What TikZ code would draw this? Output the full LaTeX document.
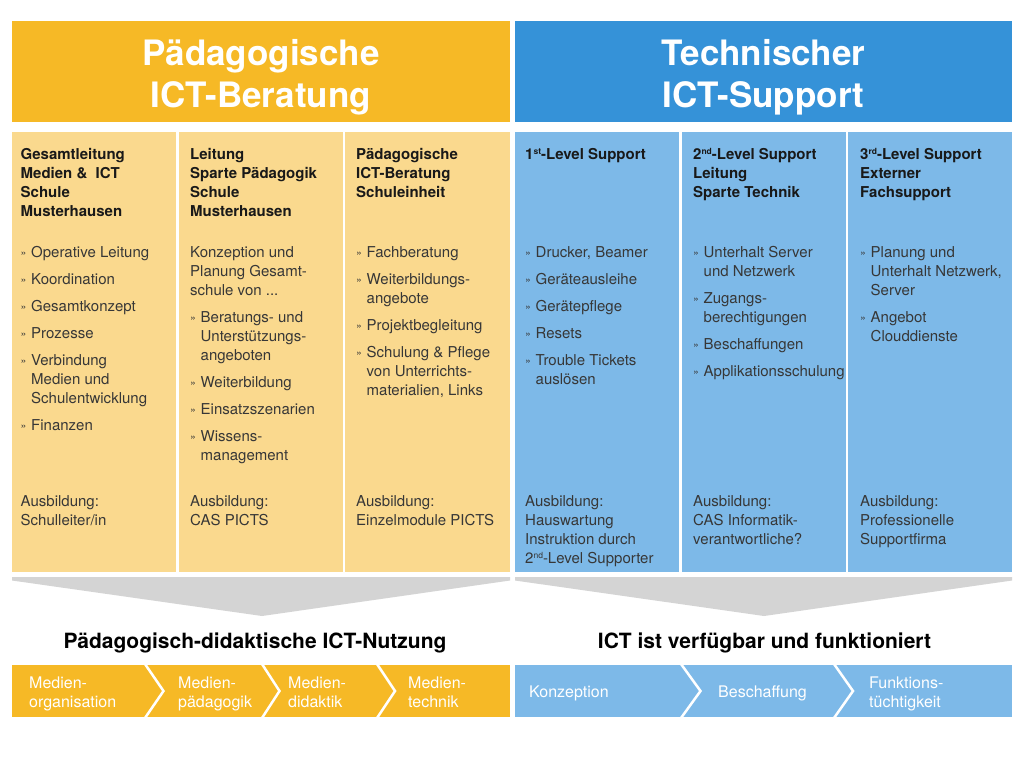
\documentclass[tikz,border=0pt]{standalone}
\usepackage{fontspec}
\setmainfont{TeX Gyre Heros}
\definecolor{orangeH}{RGB}{246,185,38}
\definecolor{orangeL}{RGB}{250,217,142}
\definecolor{blueH}{RGB}{53,146,216}
\definecolor{blueL}{RGB}{125,185,232}
\definecolor{grayA}{RGB}{212,212,212}
\definecolor{txtH}{RGB}{25,25,25}
\definecolor{txtB}{RGB}{55,55,55}
\newcommand\bul{\makebox[10.5pt][l]{\raisebox{0.8pt}{\fontsize{10.5}{10.5}\selectfont »}}}
\newcommand\ind{\makebox[10.5pt]{}}
\newcommand\sups[1]{\raisebox{5pt}{\fontsize{8.5}{8.5}\selectfont #1}}
\begin{document}
\begin{tikzpicture}[x=1pt,y=-1pt,
  box/.style={draw=none,inner sep=0,outer sep=0,anchor=north west},
  hdr/.style={inner sep=0,anchor=north,align=center,text=white,font=\fontsize{35}{41.6}\selectfont\bfseries},
  colhead/.style={inner sep=0,anchor=north west,align=left,text=txtH,font=\fontsize{15}{19}\selectfont\bfseries},
  colbody/.style={inner sep=0,anchor=north west,align=left,text=txtB,font=\fontsize{15}{19}\selectfont},
  title/.style={inner sep=0,anchor=base,text=black,font=\fontsize{21}{25}\selectfont\bfseries},
  chevtxt/.style={inner sep=0,anchor=north west,align=left,text=white,font=\fontsize{16}{19}\selectfont},
  chevone/.style={inner sep=0,anchor=base west,text=white,font=\fontsize{16}{19}\selectfont},
  sep/.style={white,line width=2.5pt}
]
\fill[white] (0,0) rectangle (1024,768);
\useasboundingbox (0,0) rectangle (1024,768);

% headers
\node[box,fill=orangeH,minimum width=498pt,minimum height=101pt] (hl) at (12,21) {};
\node[box,fill=blueH,minimum width=497pt,minimum height=101pt] (hr) at (515,21) {};
\node[hdr] (hlt) at (261,36.6) {\strut Pädagogische\\ICT-Beratung};
\node[hdr] (hrt) at (763.5,36.6) {\strut Technischer\\ICT-Support};

% columns
\node[box,fill=orangeL,minimum width=164pt,minimum height=440pt] (c1) at (12,132) {};
\node[box,fill=orangeL,minimum width=164pt,minimum height=440pt] (c2) at (179,132) {};
\node[box,fill=orangeL,minimum width=165pt,minimum height=440pt] (c3) at (345,132) {};
\node[box,fill=blueL,minimum width=164pt,minimum height=440pt] (c4) at (515,132) {};
\node[box,fill=blueL,minimum width=164pt,minimum height=440pt] (c5) at (682,132) {};
\node[box,fill=blueL,minimum width=164pt,minimum height=440pt] (c6) at (848,132) {};

% column headings
\node[colhead] (h1) at (20.5,145.7) {\strut Gesamtleitung\\Medien \&\ \ ICT\\Schule\\Musterhausen};
\node[colhead] (h2) at (190,145.7) {\strut Leitung\\Sparte Pädagogik\\Schule\\Musterhausen};
\node[colhead] (h3) at (356,145.7) {\strut Pädagogische\\ICT-Beratung\\Schuleinheit};
\node[colhead] (h4) at (525,145.7) {\strut 1\sups{st}-Level Support};
\node[colhead] (h5) at (693,145.7) {\strut 2\sups{nd}-Level Support\\Leitung\\Sparte Technik};
\node[colhead] (h6) at (860,145.7) {\strut 3\sups{rd}-Level Support\\Externer\\Fachsupport};

% column bodies
\node[colbody] (b1) at (20.5,244.2) {\strut\bul Operative Leitung\\[8pt]
  \bul Koordination\\[8pt]
  \bul Gesamtkonzept\\[8pt]
  \bul Prozesse\\[8pt]
  \bul Verbindung\\
  \ind Medien und\\
  \ind Schulentwicklung\\[8pt]
  \bul Finanzen};
\node[colbody] (b2) at (190,244.2) {\strut Konzeption und\\
  Planung Gesamt-\\
  schule von ...\\[8pt]
  \bul Beratungs- und\\
  \ind Unterstützungs-\\
  \ind angeboten\\[8pt]
  \bul Weiterbildung\\[8pt]
  \bul Einsatzszenarien\\[8pt]
  \bul Wissens-\\
  \ind management};
\node[colbody] (b3) at (356,244.2) {\strut\bul Fachberatung\\[8pt]
  \bul Weiterbildungs-\\
  \ind angebote\\[8pt]
  \bul Projektbegleitung\\[8pt]
  \bul Schulung \& Pflege\\
  \ind von Unterrichts-\\
  \ind materialien, Links};
\node[colbody] (b4) at (525,244.2) {\strut\bul Drucker, Beamer\\[8pt]
  \bul Geräteausleihe\\[8pt]
  \bul Gerätepflege\\[8pt]
  \bul Resets\\[8pt]
  \bul Trouble Tickets\\
  \ind auslösen};
\node[colbody] (b5) at (693,244.2) {\strut\bul Unterhalt Server\\
  \ind und Netzwerk\\[8pt]
  \bul Zugangs-\\
  \ind berechtigungen\\[8pt]
  \bul Beschaffungen\\[8pt]
  \bul Applikationsschulung};
\node[colbody] (b6) at (860,244.2) {\strut\bul Planung und\\
  \ind Unterhalt Netzwerk,\\
  \ind Server\\[8pt]
  \bul Angebot\\
  \ind Clouddienste};

% Ausbildung
\node[colbody] (a1) at (20.5,493.2) {\strut Ausbildung:\\Schulleiter/in};
\node[colbody] (a2) at (190,493.2) {\strut Ausbildung:\\CAS PICTS};
\node[colbody] (a3) at (356,493.2) {\strut Ausbildung:\\Einzelmodule PICTS};
\node[colbody] (a4) at (525,493.2) {\strut Ausbildung:\\Hauswartung\\Instruktion durch\\2\sups{nd}-Level Supporter};
\node[colbody] (a5) at (693,493.2) {\strut Ausbildung:\\CAS Informatik-\\verantwortliche?};
\node[colbody] (a6) at (860,493.2) {\strut Ausbildung:\\Professionelle\\Supportfirma};

% gray arrows
\fill[grayA] (12,577) -- (510,577) -- (510,580.5) -- (262,616) -- (12,580.5) -- cycle;
\fill[grayA] (515,577) -- (1012,577) -- (1012,580.5) -- (764,616) -- (515,580.5) -- cycle;

% titles
\node[title] (tl) at (255,648) {Pädagogisch-didaktische ICT-Nutzung};
\node[title] (tr) at (764.5,648) {ICT ist verfügbar und funktioniert};

% chevron bars
\node[box,fill=orangeH,minimum width=498pt,minimum height=52pt] (barl) at (12,665) {};
\node[box,fill=blueL,minimum width=497pt,minimum height=52pt] (barr) at (515,665) {};
\draw[sep] (145,664) -- (163.5,691) -- (145,718);
\draw[sep] (262,664) -- (279.5,691) -- (262,718);
\draw[sep] (377,664) -- (395,691) -- (377,718);
\draw[sep] (681,664) -- (700.5,691) -- (681,718);
\draw[sep] (834,664) -- (853,691) -- (834,718);

\node[chevtxt] (s1) at (29,674.7) {\strut Medien-\\organisation};
\node[chevtxt] (s2) at (178,674.7) {\strut Medien-\\pädagogik};
\node[chevtxt] (s3) at (288,674.7) {\strut Medien-\\didaktik};
\node[chevtxt] (s4) at (408,674.7) {\strut Medien-\\technik};
\node[chevone] (s5) at (529,697) {Konzeption};
\node[chevone] (s6) at (718,697) {Beschaffung};
\node[chevtxt] (s7) at (869,674.7) {\strut Funktions-\\tüchtigkeit};
\end{tikzpicture}
\end{document}
